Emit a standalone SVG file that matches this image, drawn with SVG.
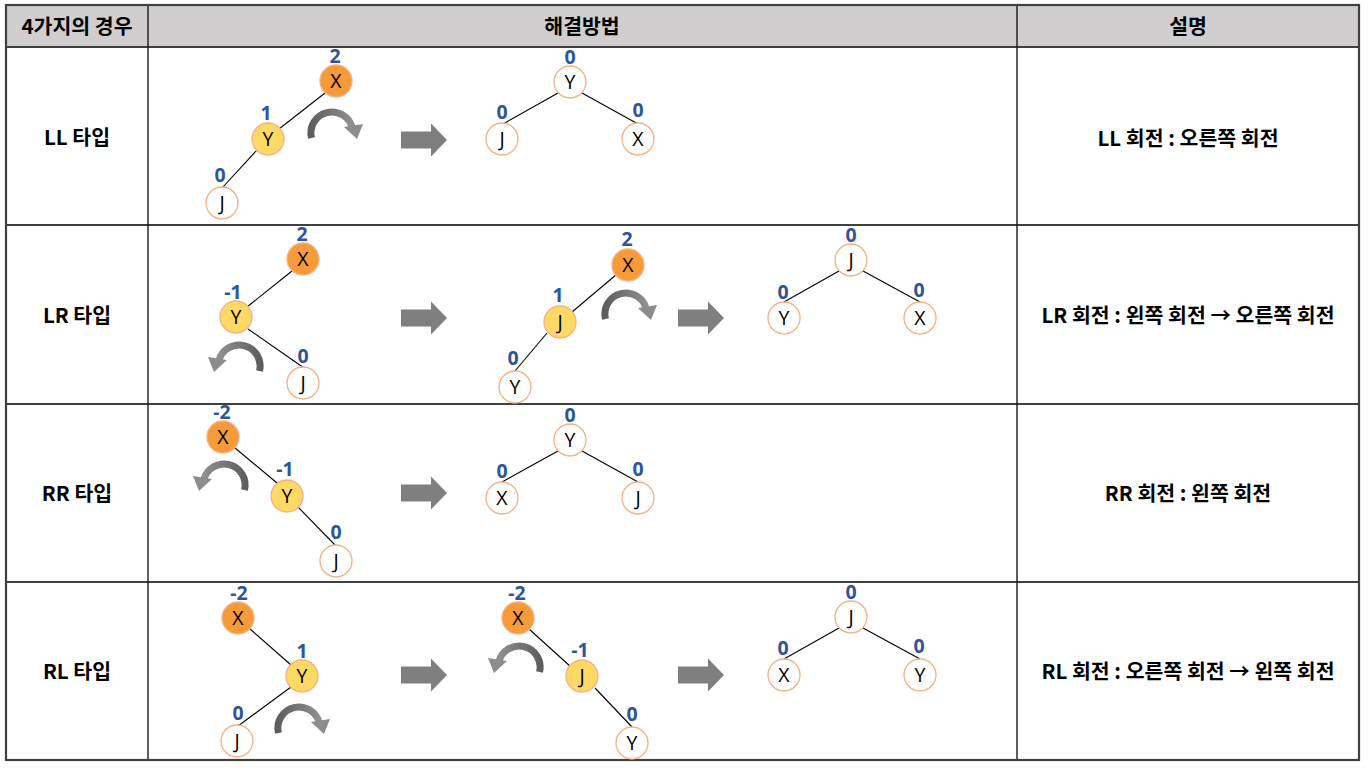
<svg xmlns="http://www.w3.org/2000/svg" xmlns:xlink="http://www.w3.org/1999/xlink" width="1368" height="769" viewBox="0 0 1368 769">
<style>
.hdr{fill:#d0cece}
.hl{stroke:#3f3f3f;stroke-width:2}
.vl{stroke:#1a1a1a;stroke-width:1.4}
.kt{font-family:"Noto Sans CJK KR","Noto Sans",sans-serif;font-weight:bold;font-size:20.5px;fill:#000;text-anchor:middle}
.nd{stroke:#f4b183;stroke-width:1.3}
.o{fill:#f79a3a}
.y{fill:#ffd966}
.w{fill:#ffffff}
.lt{font-family:"Open Sans","Noto Sans",sans-serif;font-weight:500;font-size:19.5px;fill:#000;text-anchor:middle}
.bf{font-family:"Noto Sans","Open Sans",sans-serif;font-weight:bold;font-size:19.5px;fill:#2f5597;text-anchor:middle}
.cn line{stroke:#000;stroke-width:1.1}
.big{fill:#7f7f7f}
</style>
<defs>
<linearGradient id="ga" x1="0" y1="0" x2="1" y2="0">
<stop offset="0" stop-color="#5e5e5e"/>
<stop offset="1" stop-color="#909090"/>
</linearGradient>
<g id="rotCW">
<path d="M -20.5 7 A 20.5 20.5 0 1 1 20.3 -3" fill="none" stroke="url(#ga)" stroke-width="7"/>
<polygon points="12,-4 31,-7 25,8" fill="#8c8c8c"/>
</g>
<polygon id="bigArrow" points="0,-8.5 30,-8.5 30,-16.5 46,0 30,16.5 30,8.5 0,8.5"/>
</defs>

<g id="table">
<rect x="6" y="5" width="1353" height="42" class="hdr"/>
<line x1="6" y1="47" x2="1359" y2="47" class="hl"/>
<line x1="6" y1="225" x2="1359" y2="225" class="hl"/>
<line x1="6" y1="404" x2="1359" y2="404" class="hl"/>
<line x1="6" y1="582" x2="1359" y2="582" class="hl"/>
<line x1="148" y1="5" x2="148" y2="760" class="vl"/>
<line x1="1017" y1="5" x2="1017" y2="760" class="vl"/>
<rect x="6" y="5" width="1353" height="755" fill="none" stroke="#404040" stroke-width="2.2"/>
<text x="77" y="34" class="kt">4가지의 경우</text>
<text x="582" y="34" class="kt">해결방법</text>
<text x="1188" y="34" class="kt">설명</text>
<text x="77" y="145" class="kt">LL 타입</text>
<text x="77" y="323" class="kt">LR 타입</text>
<text x="77" y="501" class="kt">RR 타입</text>
<text x="77" y="679" class="kt">RL 타입</text>
<text x="1188" y="146" class="kt">LL 회전 : 오른쪽 회전</text>
<text x="1188" y="323" class="kt">LR 회전 : 왼쪽 회전 → 오른쪽 회전</text>
<text x="1188" y="501" class="kt">RR 회전 : 왼쪽 회전</text>
<text x="1188" y="679" class="kt">RL 회전 : 오른쪽 회전 → 왼쪽 회전</text>
</g>

<g id="connectors" class="cn">
<line x1="325" y1="93" x2="279" y2="129"/>
<line x1="257" y1="150" x2="222" y2="188"/>
<line x1="558" y1="93" x2="503" y2="124"/>
<line x1="582" y1="93" x2="638" y2="124"/>
<line x1="292" y1="271" x2="247" y2="307"/>
<line x1="248" y1="329" x2="304" y2="368"/>
<line x1="617" y1="274" x2="572" y2="312"/>
<line x1="547" y1="333" x2="515" y2="371"/>
<line x1="839" y1="271" x2="784" y2="302"/>
<line x1="863" y1="271" x2="920" y2="302"/>
<line x1="235" y1="448" x2="277" y2="483"/>
<line x1="298" y1="507" x2="335" y2="545"/>
<line x1="558" y1="451" x2="502" y2="482"/>
<line x1="582" y1="451" x2="638" y2="482"/>
<line x1="249" y1="628" x2="291" y2="665"/>
<line x1="291" y1="687" x2="238" y2="726"/>
<line x1="529" y1="629" x2="571" y2="667"/>
<line x1="595" y1="688" x2="632" y2="727"/>
<line x1="839" y1="628" x2="784" y2="659"/>
<line x1="863" y1="628" x2="920" y2="659"/>
</g>

<g id="rotations">
<use href="#rotCW" transform="translate(332,131)"/>
<use href="#rotCW" transform="translate(626,312)"/>
<use href="#rotCW" transform="translate(299,726)"/>
<use href="#rotCW" transform="translate(239,364) scale(-1,1)"/>
<use href="#rotCW" transform="translate(224,483) scale(-1,1)"/>
<use href="#rotCW" transform="translate(519,665) scale(-1,1)"/>
</g>

<g id="arrows" class="big">
<use href="#bigArrow" transform="translate(401,140)"/>
<use href="#bigArrow" transform="translate(401,318)"/>
<use href="#bigArrow" transform="translate(678,318)"/>
<use href="#bigArrow" transform="translate(401,493)"/>
<use href="#bigArrow" transform="translate(401,675)"/>
<use href="#bigArrow" transform="translate(678,675)"/>
</g>

<!-- LL row -->
<g id="ll-x"><circle cx="336" cy="81" r="16" class="nd o"/><text x="336" y="88" class="lt">X</text><text x="335" y="63" class="bf">2</text></g>
<g id="ll-y"><circle cx="268" cy="139" r="16" class="nd y"/><text x="268" y="146" class="lt">Y</text><text x="266" y="120" class="bf">1</text></g>
<g id="ll-j"><circle cx="222" cy="203" r="16" class="nd w"/><text x="222" y="210" class="lt">J</text><text x="220" y="182" class="bf">0</text></g>
<g id="ll2-y"><circle cx="570" cy="82" r="16" class="nd w"/><text x="570" y="89" class="lt">Y</text><text x="570" y="64" class="bf">0</text></g>
<g id="ll2-j"><circle cx="502" cy="139" r="16" class="nd w"/><text x="502" y="146" class="lt">J</text><text x="502" y="119" class="bf">0</text></g>
<g id="ll2-x"><circle cx="638" cy="139" r="16" class="nd w"/><text x="638" y="146" class="lt">X</text><text x="638" y="117" class="bf">0</text></g>

<!-- LR row -->
<g id="lr-x"><circle cx="303" cy="259" r="16" class="nd o"/><text x="303" y="266" class="lt">X</text><text x="302" y="240.5" class="bf">2</text></g>
<g id="lr-y"><circle cx="236" cy="317" r="16" class="nd y"/><text x="236" y="324" class="lt">Y</text><text x="233" y="299" class="bf">-1</text></g>
<g id="lr-j"><circle cx="303" cy="383" r="16" class="nd w"/><text x="303" y="390" class="lt">J</text><text x="303" y="363" class="bf">0</text></g>
<g id="lr2-x"><circle cx="628" cy="265" r="16" class="nd o"/><text x="628" y="272" class="lt">X</text><text x="627" y="246" class="bf">2</text></g>
<g id="lr2-j"><circle cx="560" cy="322" r="16" class="nd y"/><text x="560" y="329" class="lt">J</text><text x="558" y="302" class="bf">1</text></g>
<g id="lr2-y"><circle cx="515" cy="387" r="16" class="nd w"/><text x="515" y="394" class="lt">Y</text><text x="513" y="365" class="bf">0</text></g>
<g id="lr3-j"><circle cx="851" cy="260" r="16" class="nd w"/><text x="851" y="267" class="lt">J</text><text x="851" y="242" class="bf">0</text></g>
<g id="lr3-y"><circle cx="784" cy="318" r="16" class="nd w"/><text x="784" y="325" class="lt">Y</text><text x="783" y="299" class="bf">0</text></g>
<g id="lr3-x"><circle cx="920" cy="318" r="16" class="nd w"/><text x="920" y="325" class="lt">X</text><text x="919" y="297" class="bf">0</text></g>

<!-- RR row -->
<g id="rr-x"><circle cx="223" cy="437" r="16" class="nd o"/><text x="223" y="444" class="lt">X</text><text x="222" y="419" class="bf">-2</text></g>
<g id="rr-y"><circle cx="287" cy="496" r="16" class="nd y"/><text x="287" y="503" class="lt">Y</text><text x="285" y="476" class="bf">-1</text></g>
<g id="rr-j"><circle cx="336" cy="561" r="16" class="nd w"/><text x="336" y="568" class="lt">J</text><text x="336" y="539" class="bf">0</text></g>
<g id="rr2-y"><circle cx="570" cy="440" r="16" class="nd w"/><text x="570" y="447" class="lt">Y</text><text x="570" y="422" class="bf">0</text></g>
<g id="rr2-x"><circle cx="502" cy="498" r="16" class="nd w"/><text x="502" y="505" class="lt">X</text><text x="502" y="478" class="bf">0</text></g>
<g id="rr2-j"><circle cx="638" cy="498" r="16" class="nd w"/><text x="638" y="505" class="lt">J</text><text x="638" y="476" class="bf">0</text></g>

<!-- RL row -->
<g id="rl-x"><circle cx="238" cy="618" r="16" class="nd o"/><text x="238" y="625" class="lt">X</text><text x="239" y="600" class="bf">-2</text></g>
<g id="rl-y"><circle cx="302" cy="676" r="16" class="nd y"/><text x="302" y="683" class="lt">Y</text><text x="302" y="658" class="bf">1</text></g>
<g id="rl-j"><circle cx="237" cy="741" r="16" class="nd w"/><text x="237" y="748" class="lt">J</text><text x="238" y="720" class="bf">0</text></g>
<g id="rl2-x"><circle cx="518" cy="618" r="16" class="nd o"/><text x="518" y="625" class="lt">X</text><text x="517" y="600" class="bf">-2</text></g>
<g id="rl2-j"><circle cx="582" cy="676" r="16" class="nd y"/><text x="582" y="683" class="lt">J</text><text x="580" y="657" class="bf">-1</text></g>
<g id="rl2-y"><circle cx="632" cy="743" r="16" class="nd w"/><text x="632" y="750" class="lt">Y</text><text x="632" y="721" class="bf">0</text></g>
<g id="rl3-j"><circle cx="851" cy="617" r="16" class="nd w"/><text x="851" y="624" class="lt">J</text><text x="851" y="599" class="bf">0</text></g>
<g id="rl3-x"><circle cx="784" cy="675" r="16" class="nd w"/><text x="784" y="682" class="lt">X</text><text x="783" y="655" class="bf">0</text></g>
<g id="rl3-y"><circle cx="920" cy="675" r="16" class="nd w"/><text x="920" y="682" class="lt">Y</text><text x="919" y="653" class="bf">0</text></g>
</svg>
